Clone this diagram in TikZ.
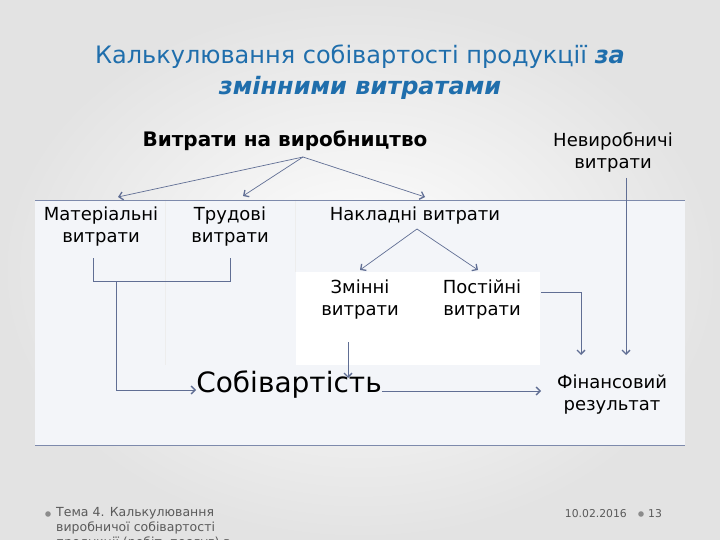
\documentclass[tikz,border=0pt]{standalone}
\usepackage{fontspec}
\setmainfont{DejaVu Sans}
\usetikzlibrary{arrows.meta,calc}
\definecolor{ttl}{RGB}{31,110,172}
\definecolor{con}{RGB}{96,110,148}
\definecolor{rulec}{RGB}{125,138,172}
\definecolor{band}{RGB}{243,245,249}
\definecolor{foot}{RGB}{90,90,90}
\begin{document}
\begin{tikzpicture}[x=1pt,y=-1pt,
  arr/.style={con, line width=0.7pt, -{Straight Barb[length=4pt,width=8pt,line width=1.3pt]}},
  ln/.style={con, line width=0.7pt},
  lbl/.style={inner sep=0pt, align=center, font=\fontsize{18}{22}\selectfont},
  footl/.style={inner sep=0pt, anchor=west, text=foot, font=\fontsize{12.5}{15}\selectfont}]
\shade[inner color=white, outer color=black!11] (0,0) rectangle (720,540);
\useasboundingbox (0,0) rectangle (720,540);
\fill[band] (35,200) rectangle (685,445);
\fill[white] (296,272) rectangle (540,365);
\draw[black!7] (165,200) -- (165,365);
\draw[black!7] (295,200) -- (295,272);
\draw[rulec, line width=0.8pt] (35,200) -- (685,200);
\draw[rulec, line width=0.8pt] (35,445) -- (685,445);
% title
\node[font=\fontsize{24}{28}\selectfont, text=ttl, inner sep=0pt] (t1) at (360,57) {Калькулювання собівартості продукції \textbf{\textit{за}}};
\node[font=\fontsize{24}{28}\selectfont, text=ttl, inner sep=0pt] (t2) at (360,88) {\textbf{\textit{змінними витратами}}};
% nodes
\node[inner sep=0pt, font=\bfseries\fontsize{20}{24}\selectfont] (vyr) at (285,141) {Витрати на виробництво};
\node[lbl] (nev) at (613,152) {Невиробничі\\витрати};
\node[lbl] (mat) at (101,227) {Матеріальні\\витрати};
\node[lbl] (trud) at (230,227) {Трудові\\витрати};
\node[lbl] (nak) at (415,216) {Накладні витрати};
\node[lbl] (zm) at (360,300) {Змінні\\витрати};
\node[lbl] (post) at (482,300) {Постійні\\витрати};
\node[inner sep=0pt, font=\fontsize{28}{32}\selectfont] (sob) at (289,385) {Собівартість};
\node[lbl] (fin) at (612,395) {Фінансовий\\результат};
% connector points
\coordinate (vtop) at (303,157);
\coordinate (ematt) at (118,197);
\coordinate (etrud) at (243,196);
\coordinate (enak) at (425,197);
\coordinate (ntop) at (417,229);
\coordinate (ezm) at (360,270);
\coordinate (epost) at (478,270);
\draw[arr] (vtop) -- (ematt);
\draw[arr] (vtop) -- (etrud);
\draw[arr] (vtop) -- (enak);
\draw[arr] (ntop) -- (ezm);
\draw[arr] (ntop) -- (epost);
% bracket
\coordinate (bm) at (93,258);
\coordinate (bt) at (230,258);
\coordinate (bj) at (116,281);
\draw[ln] (bm) |- (bt |- bj) -- (bt);
\draw[arr] (bj) |- (196,390);
% zm -> sob
\draw[arr] (348,342) -- (348,378);
% post -> fin
\draw[arr] (541,292) -| (581,355);
% nev -> fin
\draw[arr] (626,178) -- (626,355);
% sob -> fin
\draw[arr] (sob.east |- 0,391) -- (541,391);
% footer
\begin{scope}
\clip (0,0) rectangle (720,540);
\fill[black!45] (48,514) circle (2.8);
\node[footl] (f1) at (56,513) {Тема 4. Калькулювання};
\node[footl] (f2) at (56,528) {виробничої собівартості};
\node[footl] (f3) at (56,543) {продукції (робіт, послуг) в};
\node[inner sep=0pt, anchor=east, text=foot, font=\fontsize{10.8}{13}\selectfont] (date) at (627,514) {10.02.2016};
\fill[black!45] (641,514) circle (2.8);
\node[inner sep=0pt, anchor=west, text=foot, font=\fontsize{10.8}{13}\selectfont] (pg) at (648,514) {13};
\end{scope}
\end{tikzpicture}
\end{document}
